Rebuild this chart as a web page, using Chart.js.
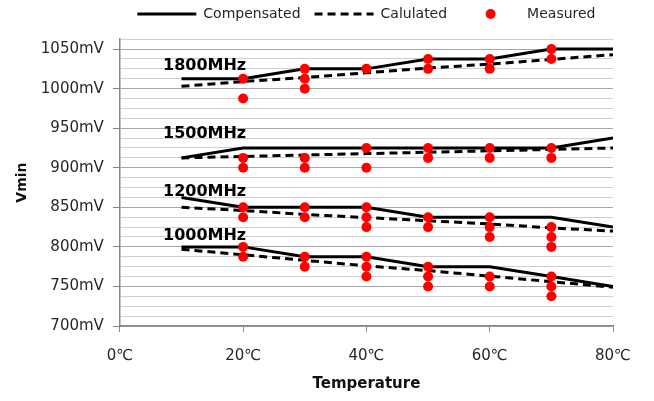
<!DOCTYPE html>
<html><head><meta charset="utf-8">
<script src="https://cdn.jsdelivr.net/npm/chart.js@4/dist/chart.umd.min.js"></script>
<style>html,body{margin:0;padding:0;background:#fff}#wrap{width:654px;height:401px;position:relative}</style>
</head><body><div id="wrap"><canvas id="c"></canvas></div>
<script>
// ---- data ----
const temps = [10, 20, 30, 40, 50, 60, 70, 80];
const comp1800 = [1012.5, 1012.5, 1025, 1025, 1037.5, 1037.5, 1050, 1050];
const calc1800 = [1003, 1009, 1014, 1020, 1026, 1031, 1037, 1043];
const comp1500 = [912.5, 925, 925, 925, 925, 925, 925, 937.5];
const calc1500 = [912.5, 914.3, 916.1, 917.9, 919.6, 921.4, 923.2, 925];
const comp1200 = [862.5, 850, 850, 850, 837.5, 837.5, 837.5, 825];
const calc1200 = [850, 846, 841, 837, 833, 829, 824, 820];
const comp1000 = [800, 800, 787.5, 787.5, 775, 775, 762.5, 750];
const calc1000 = [797, 790, 783, 776, 770, 763, 756, 749];

const meas1800T = [20, 20, 30, 30, 30, 40, 50, 50, 60, 60, 70, 70];
const meas1800V = [1012.5, 987.5, 1025, 1012.5, 1000, 1025, 1037.5, 1025, 1037.5, 1025, 1050, 1037.5];
const meas1500T = [20, 20, 30, 30, 40, 40, 50, 50, 60, 60, 70, 70];
const meas1500V = [912.5, 900, 912.5, 900, 925, 900, 925, 912.5, 925, 912.5, 925, 912.5];
const meas1200T = [20, 20, 30, 30, 40, 40, 40, 50, 50, 60, 60, 60, 70, 70, 70];
const meas1200V = [850, 837.5, 850, 837.5, 850, 837.5, 825, 837.5, 825, 837.5, 825, 812.5, 825, 812.5, 800];
const meas1000T = [20, 20, 30, 30, 40, 40, 40, 50, 50, 50, 60, 60, 70, 70, 70];
const meas1000V = [800, 787.5, 787.5, 775, 787.5, 775, 762.5, 775, 762.5, 750, 762.5, 750, 762.5, 750, 737.5];

const freqLabels = ['1800MHz', '1500MHz', '1200MHz', '1000MHz'];
const freqLabelT = [7, 7, 7, 7];
const freqLabelV = [1029, 943, 869, 814];

const seriesNames = ['Compensated', 'Calulated', 'Measured'];
const xTickSuffix = '\u2103';
const yTickSuffix = 'mV';
const xTitle = 'Temperature';
const yTitle = 'Vmin';

// ---- build ----
const FONT = "'DejaVu Sans', sans-serif";
const pts = (xs, ys) => xs.map((x, i) => ({x: x, y: ys[i]}));
const groups = [
  [comp1800, calc1800, meas1800T, meas1800V],
  [comp1500, calc1500, meas1500T, meas1500V],
  [comp1200, calc1200, meas1200T, meas1200V],
  [comp1000, calc1000, meas1000T, meas1000V]
];
const datasets = [];
groups.forEach(g => {
  datasets.push({label: seriesNames[0], data: pts(temps, g[0]), borderColor: '#000', borderWidth: 3,
    pointRadius: 0, pointStyle: 'line', fill: false, tension: 0, order: 2});
  datasets.push({label: seriesNames[1], data: pts(temps, g[1]), borderColor: '#000', borderWidth: 3,
    borderDash: [8, 5], pointRadius: 0, pointStyle: 'line', fill: false, tension: 0, order: 1});
  datasets.push({label: seriesNames[2], data: pts(g[2], g[3]), showLine: false, pointRadius: 5,
    pointBackgroundColor: '#ff0000', pointBorderWidth: 0, borderColor: '#ff0000', order: 0});
});

const LEG_BOX = 59;
const dot = document.createElement('canvas');
dot.width = LEG_BOX; dot.height = 12;
(function(){ const c = dot.getContext('2d'); c.fillStyle = '#ff0000'; c.beginPath(); c.arc(LEG_BOX / 2, 6, 5, 0, Math.PI*2); c.fill(); })();

const freqLabelPlugin = {
  id: 'freqLabels',
  afterDatasetsDraw(chart) {
    const {ctx, scales: {x, y}} = chart;
    ctx.save();
    ctx.font = "bold 16px " + FONT;
    ctx.fillStyle = '#000';
    ctx.textAlign = 'left';
    ctx.textBaseline = 'middle';
    freqLabels.forEach((t, i) => ctx.fillText(t, x.getPixelForValue(freqLabelT[i]), y.getPixelForValue(freqLabelV[i])));
    ctx.restore();
  }
};

new Chart(document.getElementById('c'), {
  type: 'line',
  data: {datasets: datasets},
  plugins: [freqLabelPlugin],
  options: {
    responsive: true, maintainAspectRatio: false, animation: false, devicePixelRatio: 1,
    layout: {padding: {left: 14, right: 41, top: -7, bottom: 8}},
    plugins: {
      tooltip: {enabled: false},
      subtitle: {display: true, text: '', font: {size: 1}, padding: {top: 0, bottom: 7}, weight: 500},
      legend: {
        position: 'top', fullSize: false, align: 'center', weight: 3000,
        labels: {
          usePointStyle: true, pointStyleWidth: LEG_BOX, boxWidth: LEG_BOX, boxHeight: 10, padding: 14,
          color: '#262626', font: {family: FONT, size: 14},
          generateLabels(chart) {
            const items = Chart.defaults.plugins.legend.labels.generateLabels(chart);
            return items.filter(it => it.datasetIndex < 3)
              .sort((a, b) => a.datasetIndex - b.datasetIndex)
              .map(it => {
                const ds = chart.data.datasets[it.datasetIndex];
                if (it.datasetIndex === 2) {
                  it.pointStyle = dot;
                } else {
                  it.lineDash = ds.borderDash || [];
                  it.lineWidth = ds.borderWidth;
                  it.strokeStyle = ds.borderColor;
                }
                return it;
              });
          }
        }
      }
    },
    scales: {
      x: {
        type: 'linear', min: 0, max: 80,
        ticks: {stepSize: 20, color: '#262626', font: {family: FONT, size: 15}, padding: 15,
          callback: v => v + xTickSuffix},
        grid: {drawOnChartArea: false, drawTicks: true, tickLength: 6, color: '#888'},
        border: {color: '#888', width: 1.5},
        title: {display: true, text: xTitle, color: '#111', font: {family: FONT, size: 15, weight: 'bold'}, padding: {top: -5, bottom: 0}}
      },
      y: {
        min: 700, max: 1062.5,
        ticks: {stepSize: 12.5, autoSkip: false, maxTicksLimit: 100, color: '#262626', font: {family: FONT, size: 15}, padding: 9,
          callback: v => (v % 50 === 0 ? v + yTickSuffix : '')},
        grid: {
          color: c => (c.tick && c.tick.value % 50 === 0 ? '#a6a6a6' : '#cfcfcf'),
          tickColor: c => (c.tick && c.tick.value % 50 === 0 ? '#888' : 'rgba(0,0,0,0)'),
          lineWidth: 1, tickLength: 7
        },
        border: {color: '#888', width: 1.5},
        title: {display: true, text: yTitle, color: '#111', font: {family: FONT, size: 14, weight: 'bold'}, padding: {top: 0, bottom: 1}}
      }
    }
  }
});
</script>
</body></html>
